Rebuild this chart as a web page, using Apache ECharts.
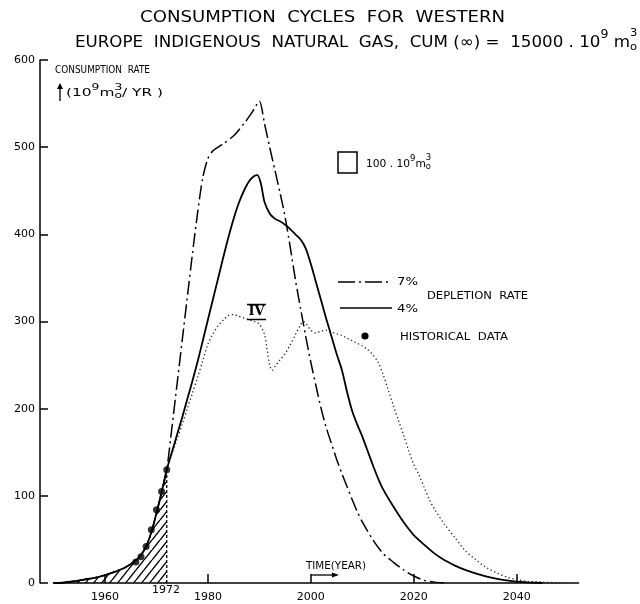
<!DOCTYPE html>
<html><head><meta charset="utf-8">
<script src="https://cdn.jsdelivr.net/npm/echarts@6/dist/echarts.min.js"></script>
<style>html,body{margin:0;padding:0;background:#fff}#c{width:640px;height:604px}</style>
</head><body><div id="c"></div>
<script>
// ---------- DATA ----------
const histYears = [1950,1952,1954,1956,1958,1960,1962,1964,1966,1967,1968,1969,1970,1971,1972];
const histRate  = [0,0.5,2,4,6,9,13,18,26,32,42,58,80,104,130];

const years7 = [1973,1974,1975,1976,1977,1978,1979,1980,1981,1983,1985,1987,1988,1989,1990,1991,1992,1993,1994,1995,1996,1997,1998,1999,2000,2001,2002,2003,2004,2005,2006,2007,2008,2009,2010,2012,2014,2016,2018,2020,2022,2024,2026];
const rate7  = [178,228,278,328,378,425,465,487,496,504,513,527,535,544,553,527,500,474,448,420,385,348,315,283,253,226,200,178,160,142,126,111,96,82,70,50,34,24,15,8,3,1,0];

const years4 = [1973,1974,1975,1976,1977,1978,1979,1980,1981,1982,1983,1984,1985,1986,1987,1988,1989,1989.6,1990.3,1991,1992,1993,1994,1995,1996,1997,1998,1999,2000,2001,2002,2003,2004,2005,2006,2007,2008,2009,2010,2011,2012,2013,2014,2016,2018,2020,2022,2024,2026,2028,2030,2032,2034,2036,2038,2040,2042,2045];
const rate4  = [150,170,190,211,232,254,278,302,326,350,374,397,418,436,450,461,467,468,458,437,424,418,415,411,406,400,394,384,366,345,324,303,283,263,245,220,198,182,168,152,136,121,108,88,70,55,44,34,26,20,15,11,7.5,5,3,1.5,0.8,0];

const yearsIV = [1973,1974,1975,1976,1977,1978,1979,1980,1981,1982,1983,1984,1985,1986,1987,1988,1989,1990,1991,1991.5,1992,1992.5,1993,1994,1995,1996,1997,1998,1998.5,1999,2000,2001,2002,2003,2004,2005,2006,2007,2008,2009,2010,2011,2012,2013,2014,2015,2016,2017,2018,2019,2020,2021,2022,2023,2024,2026,2028,2030,2032,2034,2036,2038,2040,2042,2045,2049];
const rateIV  = [148,165,182,200,218,236,255,274,286,295,302,307,308,306,304,302,300,297,285,268,250,244,248,256,263,273,285,296,300,298,290,287,289,290,288,286,284,281,278,275,272,268,262,254,240,222,204,187,170,152,136,124,110,96,85,67,52,37,27,18,12,7,4,2,1,0];

const histDataYears = [1966,1967,1968,1969,1970,1971,1972];
const histDataRate  = [24,30,42,61,84,105,130];

const xTickYears = [1960,1980,2000,2020,2040];

// ---------- HELPERS ----------
const zip = (xs, ys) => xs.map((x, i) => [x, ys[i]]);
const hist = zip(histYears, histRate);
const s7 = hist.concat(zip(years7, rate7));
const s4 = hist.concat(zip(years4, rate4));
const sIV = hist.concat(zip(yearsIV, rateIV));

const FF = '"DejaVu Sans", "Liberation Sans", sans-serif';
const mctx = document.createElement('canvas').getContext('2d');
function tw(t, size) { mctx.font = size + 'px ' + FF; return mctx.measureText(t).width; }
function textLine(parts, x0, yc, targetW) {
  let x = 0; const ch = [];
  parts.forEach(p => {
    ch.push({ type: 'text', x: x, y: p.dy || 0, style: { text: p.t, fontSize: p.size, fontFamily: FF, fill: '#000', verticalAlign: 'middle', align: 'left' } });
    if (!p.stay) x += tw(p.t, p.size);
  });
  const s = targetW ? targetW / x : 1;
  return { type: 'group', x: x0, y: yc, scaleX: s, children: ch };
}

// hatch pattern
const pc = document.createElement('canvas'); pc.width = 8; pc.height = 10;
const pg = pc.getContext('2d'); pg.strokeStyle = '#000'; pg.lineWidth = 1.4;
pg.beginPath();
pg.moveTo(0, 10); pg.lineTo(8, 0);
pg.moveTo(-8, 10); pg.lineTo(0, 0);
pg.moveTo(8, 10); pg.lineTo(16, 0);
pg.stroke();

const chart = echarts.init(document.getElementById('c'), null, { renderer: 'canvas' });

const graphics = [
  textLine([{ t: 'CONSUMPTION  CYCLES  FOR  WESTERN', size: 16 }], 140, 18, 365),
  textLine([
    { t: 'EUROPE  INDIGENOUS  NATURAL  GAS,  CUM (\u221E) =  15000 . 10', size: 16 },
    { t: '9', size: 12, dy: -8 },
    { t: ' m', size: 16 },
    { t: '3', size: 11, dy: -10, stay: true },
    { t: 'o', size: 11, dy: 4 }
  ], 75, 43, 562),
  textLine([{ t: 'CONSUMPTION  RATE', size: 11 }], 55, 70, 95),
  textLine([
    { t: '(10', size: 10 }, { t: '9', size: 8, dy: -5 }, { t: 'm', size: 10 },
    { t: '3', size: 8, dy: -5, stay: true }, { t: 'o', size: 8, dy: 3 },
    { t: '/ YR )', size: 10 }
  ], 66, 93, 97),
  { type: 'line', shape: { x1: 60, y1: 101, x2: 60, y2: 86 }, style: { stroke: '#000', lineWidth: 1.3 } },
  { type: 'polygon', shape: { points: [[57, 89], [63, 89], [60, 83]] }, style: { fill: '#000' } },
  { type: 'rect', shape: { x: 338, y: 152, width: 19, height: 21 }, style: { fill: 'none', stroke: '#000', lineWidth: 1.5 } },
  textLine([
    { t: '100 . 10', size: 10 }, { t: '9', size: 8, dy: -5 }, { t: 'm', size: 10 },
    { t: '3', size: 8, dy: -6, stay: true }, { t: 'o', size: 8, dy: 3 }
  ], 366, 164, 65),
  { type: 'line', shape: { x1: 338, y1: 282, x2: 392, y2: 282 }, style: { stroke: '#000', lineWidth: 1.5, lineDash: [17, 4, 2, 4] } },
  { type: 'line', shape: { x1: 340, y1: 308, x2: 392, y2: 308 }, style: { stroke: '#000', lineWidth: 1.6 } },
  textLine([{ t: '7%', size: 11 }], 397, 282, 21),
  textLine([{ t: '4%', size: 11 }], 397, 309, 21),
  textLine([{ t: 'DEPLETION  RATE', size: 11 }], 427, 296, 101),
  { type: 'circle', shape: { cx: 365, cy: 336, r: 3.6 }, style: { fill: '#000' } },
  textLine([{ t: 'HISTORICAL  DATA', size: 11 }], 400, 337, 108),
  { type: 'text', x: 256.5, y: 312, style: { text: 'IV', fontSize: 13, fontWeight: 'bold', fontFamily: '"DejaVu Serif", serif', fill: '#000', align: 'center', verticalAlign: 'middle' } },
  { type: 'line', shape: { x1: 247, y1: 304.5, x2: 266, y2: 304.5 }, style: { stroke: '#000', lineWidth: 1.5 } },
  { type: 'line', shape: { x1: 247, y1: 319.5, x2: 266, y2: 319.5 }, style: { stroke: '#000', lineWidth: 1.5 } },
  textLine([{ t: 'TIME(YEAR)', size: 10 }], 306, 566, 60),
  { type: 'line', shape: { x1: 311, y1: 575, x2: 334, y2: 575 }, style: { stroke: '#000', lineWidth: 1.3 } },
  { type: 'polygon', shape: { points: [[332, 572.5], [332, 577.5], [339, 575]] }, style: { fill: '#000' } },
  { type: 'text', x: 166, y: 590, style: { text: '1972', fontSize: 11, fontFamily: FF, fill: '#000', align: 'center', verticalAlign: 'middle' } }
];

chart.setOption({
  animation: false,
  backgroundColor: '#fff',
  grid: { left: 53.5, right: 61.5, top: 60, bottom: 21, containLabel: false },
  xAxis: {
    type: 'value', min: 1950, max: 2052,
    axisLine: { show: true, lineStyle: { color: '#000', width: 1.5 } },
    axisTick: { show: true, inside: true, length: 9, customValues: xTickYears, lineStyle: { color: '#000', width: 1.5 } },
    axisLabel: { customValues: xTickYears, color: '#000', fontSize: 11, fontFamily: FF, margin: 9, formatter: v => String(v) },
    splitLine: { show: false }
  },
  yAxis: {
    type: 'value', min: 0, max: 600, interval: 100, offset: 13.5,
    axisLine: { show: true, lineStyle: { color: '#000', width: 1.5 } },
    axisTick: { show: true, inside: true, length: 8, lineStyle: { color: '#000', width: 1.5 } },
    axisLabel: { color: '#000', fontSize: 11, fontFamily: FF, margin: 5 },
    splitLine: { show: false }
  },
  series: [
    { name: 'hatch', type: 'line', data: hist, showSymbol: false, smooth: false, lineStyle: { width: 0 }, areaStyle: { color: { image: pc, repeat: 'repeat' }, opacity: 1 }, z: 1, silent: true },
    { name: 'edge1972', type: 'line', data: [[1972, 0], [1972, 130]], showSymbol: false, lineStyle: { color: '#000', width: 1.3, type: [3, 2] }, z: 2 },
    { name: 'IV', type: 'line', data: sIV, showSymbol: false, smooth: 0.3, lineStyle: { color: '#222', width: 1.3, type: [1.3, 2.6] }, z: 3 },
    { name: '4%', type: 'line', data: s4, showSymbol: false, smooth: 0.3, lineStyle: { color: '#000', width: 1.8 }, z: 4 },
    { name: '7%', type: 'line', data: s7, showSymbol: false, smooth: 0.25, lineStyle: { color: '#000', width: 1.5, type: [14, 4, 2, 4] }, z: 5 },
    { name: 'historical', type: 'scatter', data: zip(histDataYears, histDataRate), symbolSize: 7, itemStyle: { color: '#000' }, z: 6 }
  ],
  graphic: graphics
});
</script>
</body></html>
